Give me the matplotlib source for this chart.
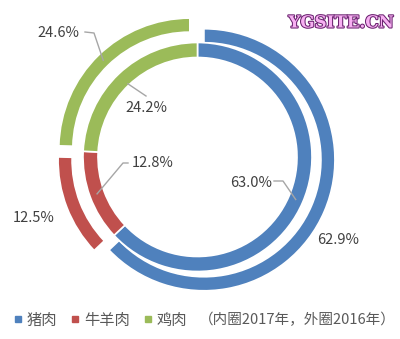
import numpy as np
import matplotlib.pyplot as plt
import matplotlib.patheffects as pe
from matplotlib.lines import Line2D

plt.rcParams['font.family'] = ['Noto Sans CJK SC', 'DejaVu Sans']

""" Data """
categories = ['猪肉', '牛羊肉', '鸡肉']
share_2016 = [62.9, 12.5, 24.6]   # outer ring
share_2017 = [63.0, 12.8, 24.2]   # inner ring
note = '（内圈2017年，外圈2016年）'
watermark = 'YGSITE.CN'
colors = ['#4F81BD', '#C0504D', '#9BBB59']

""" Layout (pixels) """
W, H = 400, 339
cx, cy = 197.5, 157.0
scale = 131.0  # px per unit radius
outer_explode = np.array([7, 9, 11]) / scale
inner_r = 114.5 / scale

# label centre, leader polyline start points, anchor radius (px)
outer_labels = [((338, 240), [], None),
                ((34, 218), [], None),
                ((58, 33), [(85, 32), (94, 33)], 135)]
inner_labels = [((251, 183), [(274, 181), (283, 181)], 107),
                ((153, 163), [(128, 163), (123, 163)], 107),
                ((146, 108), [(146, 96)], 101)]


def d(p):
    return ((p[0] - cx) / scale, (cy - p[1]) / scale)


def mid_angle(vals, i):
    tot = float(sum(vals))
    start = sum(vals[:i]) / tot
    return np.deg2rad(90 - 360 * (start + vals[i] / tot / 2))


fig = plt.figure(figsize=(W / 100, H / 100), dpi=100)
ax = fig.add_axes([0, 0, 1, 1])

ax.pie(share_2016, radius=1.0, colors=colors, startangle=90, counterclock=False,
       explode=outer_explode,
       wedgeprops=dict(width=14 / scale, edgecolor='white', linewidth=1.2))
ax.pie(share_2017, radius=inner_r, colors=colors, startangle=90, counterclock=False,
       wedgeprops=dict(width=15 / scale, edgecolor='white', linewidth=1.2))


def put_labels(vals, labels):
    for i, (pos, leader, r) in enumerate(labels):
        ax.text(*d(pos), f'{vals[i]:.1f}%', ha='center', va='center',
                fontsize=10.5, color='#404040')
        if leader:
            a = mid_angle(vals, i)
            pts = [d(p) for p in leader] + [(r / scale * np.cos(a), r / scale * np.sin(a))]
            xs, ys = zip(*pts)
            ax.plot(xs, ys, color='#A6A6A6', lw=1.0)


put_labels(share_2016, outer_labels)
put_labels(share_2017, inner_labels)

ax.set_xlim(-cx / scale, (W - cx) / scale)
ax.set_ylim((cy - H) / scale, cy / scale)
ax.set_aspect('auto')
ax.axis('off')

handles = [Line2D([], [], ls='', marker='s', markersize=5, color=c) for c in colors]
fig.legend(handles, categories, loc='center left', bbox_to_anchor=(13.5 / W, 1 - 320 / H),
           ncol=3, frameon=False, fontsize=11, handlelength=0.6, handletextpad=0.25,
           columnspacing=0.9, borderpad=0, borderaxespad=0, labelcolor='#595959')
fig.text(199 / W, 1 - 320 / H, note, ha='left', va='center', fontsize=10.5, color='#595959')

fig.text(341 / W, 1 - 23 / H, watermark, ha='center', va='center', fontsize=12,
         fontweight='bold', family='DejaVu Serif', color='#F7B0F2',
         path_effects=[pe.withStroke(linewidth=1.5, foreground='#6B2370')])

fig.savefig('out.png', dpi=100)
